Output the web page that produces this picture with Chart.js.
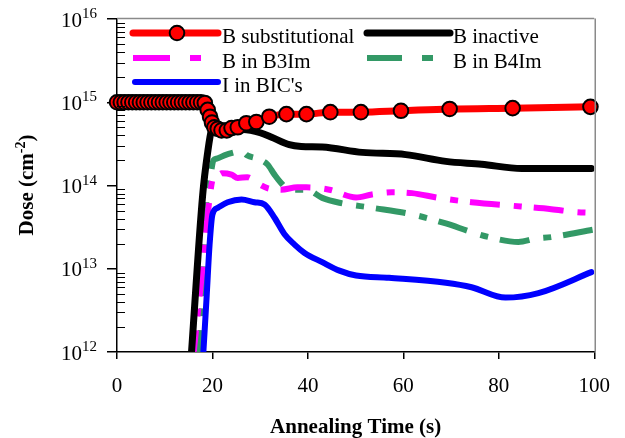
<!DOCTYPE html>
<html>
<head>
<meta charset="utf-8">
<script src="https://cdn.jsdelivr.net/npm/chart.js@4.4.0/dist/chart.umd.min.js"></script>
<style>
  html, body { margin: 0; padding: 0; background: #fff; }
  #wrap { width: 625px; height: 438px; }
</style>
</head>
<body>
<div id="wrap"><canvas id="cv" width="625" height="438"></canvas></div>
<script>
'use strict';
// Annealing time (s) and dose (cm^-2)
const subT = [0, 0.8, 1.6, 2.4, 3.2, 4.0, 4.8, 5.6, 6.4, 7.2, 8.0, 8.8, 9.6, 10.4, 11.2, 12.0, 12.8, 13.6, 14.4, 15.2, 16.0, 16.8, 17.6, 18.4,
  19.0, 19.5, 19.9, 20.4, 21.1, 21.9, 23.0, 24.0, 25.3, 27.1, 29.2, 31.9, 35.5, 39.7, 44.7, 51.1, 59.5, 69.7, 82.9, 99.2];
const subDose = [1e15, 1e15, 1e15, 1e15, 1e15, 1e15, 1e15, 1e15, 1e15, 1e15, 1e15, 1e15, 1e15, 1e15, 1e15, 1e15, 1e15, 1e15, 1e15, 1e15, 1e15, 1e15, 1e15, 9.8e14,
  8.1e14, 6.7e14, 5.7e14, 5.0e14, 4.8e14, 4.6e14, 4.6e14, 4.9e14, 5.0e14, 5.6e14, 5.8e14, 6.7e14, 7.2e14, 7.2e14, 7.6e14, 7.6e14, 7.9e14, 8.3e14, 8.5e14, 8.8e14];

const inactT = [15.5, 17.95, 19.0, 19.8, 20.5, 22, 25, 28, 30, 32.4, 36.1, 38.6, 43, 51.4, 60.5, 68.9, 76.4, 84.8, 99.4];
const inactDose = [8e11, 7.7e13, 2.5e14, 4.6e14, 5.0e14, 5.0e14, 4.8e14, 4.6e14, 4.3e14, 3.8e14, 3.1e14, 2.95e14, 2.9e14, 2.5e14, 2.35e14, 1.95e14, 1.8e14, 1.6e14, 1.6e14];

const b3T = [15.9, 17.9, 19.5, 20.1, 20.9, 21.9, 24.0, 25.3, 27.3, 29.4, 31.5, 34.4, 37.8, 39.7, 44.5, 50.1, 53.4, 57.6, 61.8, 67.4, 74.3, 84.6, 91.0, 96.2, 100];
const b3Dose = [8e11, 1.0e13, 7.8e13, 1.2e14, 1.26e14, 1.4e14, 1.35e14, 1.23e14, 1.26e14, 1.07e14, 9.3e13, 8.9e13, 9.5e13, 9.5e13, 8.9e13, 7.2e13, 7.8e13, 8.3e13, 8.1e13, 7.1e13, 6.3e13, 5.6e13, 5.2e13, 4.8e13, 4.7e13];

const b4T = [17.2, 18.2, 18.8, 19.6, 20.2, 20.9, 22.5, 24.6, 26.1, 27.3, 29.4, 31.5, 33.0, 34.4, 36.1, 39.7, 43.0, 46.6, 53.4, 61.8, 68.9, 74.3, 77.9, 84.1, 87.7, 91.0, 99.8];
const b4Dose = [8e11, 9.5e12, 7.8e13, 1.35e14, 2.0e14, 2.1e14, 2.3e14, 2.5e14, 2.6e14, 2.3e14, 2.1e14, 1.8e14, 1.35e14, 1.07e14, 8.9e13, 8.9e13, 7.1e13, 6.2e13, 5.4e13, 4.5e13, 3.5e13, 2.75e13, 2.4e13, 2.1e13, 2.3e13, 2.4e13, 2.95e13];

const bicT = [18.0, 18.8, 19.4, 20.0, 21.1, 23.2, 26.1, 28.8, 30.9, 33.0, 35.1, 37.2, 39.3, 43.0, 46.6, 50.1, 57.0, 68.9, 74.3, 81.4, 88.3, 99.4];
const bicDose = [8e11, 4.8e12, 1.95e13, 4.5e13, 5.4e13, 6.3e13, 6.8e13, 6.3e13, 5.9e13, 4.1e13, 2.6e13, 1.95e13, 1.55e13, 1.2e13, 9.5e12, 8.3e12, 7.8e12, 6.8e12, 6.0e12, 4.5e12, 5.1e12, 9.1e12];

const seriesNames = ['B substitutional', 'B inactive', 'B in B3Im', 'B in B4Im', "I in BIC's"];
const xTicks = [0, 20, 40, 60, 80, 100];
const yExps = [12, 13, 14, 15, 16];

const SERIF = "'Liberation Serif', 'Times New Roman', serif";
const DASH = [30, 14, 8, 12];

function pts(xs, ys) { return xs.map((x, i) => ({ x, y: ys[i] })); }
function isDecade(v) { const l = Math.log10(v); return Math.abs(l - Math.round(l)) < 1e-6; }

// legend placement (pixels), one per series
const legendSlots = [
  { x0: 133, x1: 218, y: 33, tx: 222, mark: 177 },
  { x0: 367, x1: 450, y: 33, tx: 453 },
  { x0: 133, x1: 201, y: 58, tx: 222, dash: [37, 20, 11, 100] },
  { x0: 367, x1: 433, y: 58, tx: 453, dash: [35, 20, 11, 100] },
  { x0: 135, x1: 218, y: 82, tx: 222 },
];

const decor = {
  id: 'decor',
  afterDraw(chart) {
    const ctx = chart.ctx;
    const a = chart.chartArea;
    const ys = chart.scales.y;
    ctx.save();

    // grey frame on top and right
    ctx.strokeStyle = '#8a8a8a';
    ctx.lineWidth = 1.5;
    ctx.beginPath();
    ctx.moveTo(a.left, a.top - 0.5); ctx.lineTo(a.right, a.top - 0.5);
    ctx.moveTo(a.right + 1, a.top - 0.5); ctx.lineTo(a.right + 1, a.bottom);
    ctx.stroke();

    // minor y ticks point inward
    ctx.strokeStyle = '#000';
    ctx.lineWidth = 1;
    ctx.beginPath();
    ys.ticks.forEach(t => {
      if (isDecade(t.value)) return;
      const y = Math.round(ys.getPixelForValue(t.value)) + 0.5;
      ctx.moveTo(a.left, y); ctx.lineTo(a.left + 8, y);
    });
    ctx.stroke();

    // y tick labels 10^n
    ctx.fillStyle = '#000';
    ctx.textBaseline = 'alphabetic';
    yExps.forEach(e => {
      const y = ys.getPixelForValue(Math.pow(10, e));
      ctx.font = '15px ' + SERIF;
      const we = ctx.measureText(String(e)).width;
      ctx.font = '21px ' + SERIF;
      ctx.textAlign = 'right';
      ctx.fillText('10', 97 - we, y + 7.5);
      ctx.font = '15px ' + SERIF;
      ctx.textAlign = 'left';
      ctx.fillText(String(e), 97 - we, y - 1);
    });

    // y title with superscript
    ctx.translate(33, 185);
    ctx.rotate(-Math.PI / 2);
    ctx.textAlign = 'left';
    ctx.font = 'bold 21px ' + SERIF;
    const w1 = ctx.measureText('Dose (cm').width;
    const w3 = ctx.measureText(')').width;
    ctx.font = 'bold 14px ' + SERIF;
    const w2 = ctx.measureText('-2').width;
    let x = -(w1 + w2 + w3) / 2;
    ctx.font = 'bold 21px ' + SERIF;
    ctx.fillText('Dose (cm', x, 0); x += w1;
    ctx.font = 'bold 14px ' + SERIF;
    ctx.fillText('-2', x, -8); x += w2;
    ctx.font = 'bold 21px ' + SERIF;
    ctx.fillText(')', x, 0);
    ctx.restore();

    // legend
    ctx.save();
    chart.data.datasets.forEach((ds, i) => {
      const s = legendSlots[i];
      ctx.strokeStyle = ds.borderColor;
      ctx.lineWidth = ds.borderWidth;
      ctx.lineCap = s.dash ? 'butt' : 'round';
      ctx.setLineDash(s.dash || []);
      ctx.beginPath();
      ctx.moveTo(s.x0, s.y); ctx.lineTo(s.x1, s.y);
      ctx.stroke();
      ctx.setLineDash([]);
      if (s.mark) {
        ctx.beginPath();
        ctx.arc(s.mark, s.y, ds.pointRadius, 0, Math.PI * 2);
        ctx.fillStyle = ds.pointBackgroundColor;
        ctx.fill();
        ctx.lineWidth = ds.pointBorderWidth;
        ctx.strokeStyle = ds.pointBorderColor;
        ctx.stroke();
      }
      ctx.fillStyle = '#000';
      ctx.font = '21px ' + SERIF;
      ctx.textAlign = 'left';
      ctx.textBaseline = 'alphabetic';
      ctx.fillText(ds.label, s.tx, s.y + 10);
    });
    ctx.restore();
  }
};

const chart = new Chart(document.getElementById('cv'), {
  type: 'line',
  data: {
    datasets: [
      { label: seriesNames[0], data: pts(subT, subDose), borderColor: '#ff0000', borderWidth: 7,
        pointRadius: 7.3, pointBackgroundColor: '#ff0000', pointBorderColor: '#000', pointBorderWidth: 2,
        cubicInterpolationMode: 'monotone', clip: false, order: 0 },
      { label: seriesNames[1], data: pts(inactT, inactDose), borderColor: '#000000', borderWidth: 7,
        pointRadius: 0, cubicInterpolationMode: 'monotone', borderCapStyle: 'round', borderJoinStyle: 'round', order: 1 },
      { label: seriesNames[2], data: pts(b3T, b3Dose), borderColor: '#ff00ff', borderWidth: 6,
        borderDash: DASH, pointRadius: 0, cubicInterpolationMode: 'monotone', order: 3 },
      { label: seriesNames[3], data: pts(b4T, b4Dose), borderColor: '#339966', borderWidth: 6,
        borderDash: DASH, pointRadius: 0, cubicInterpolationMode: 'monotone', order: 4 },
      { label: seriesNames[4], data: pts(bicT, bicDose), borderColor: '#0000ff', borderWidth: 6,
        pointRadius: 0, cubicInterpolationMode: 'monotone', borderCapStyle: 'round', borderJoinStyle: 'round', order: 2 },
    ]
  },
  options: {
    responsive: false,
    animation: false,
    devicePixelRatio: 1,
    layout: { padding: { left: 0, right: 28, top: 19, bottom: 0 } },
    plugins: { legend: { display: false }, tooltip: { enabled: false } },
    scales: {
      x: {
        type: 'linear', min: 0, max: 100,
        afterFit: s => { s.height = 86; },
        afterBuildTicks: s => { s.ticks = xTicks.map(v => ({ value: v })); },
        ticks: { color: '#000', font: { family: SERIF, size: 21 }, padding: 15, maxRotation: 0 },
        grid: { drawOnChartArea: false, drawTicks: true, tickLength: 7, color: '#000', lineWidth: 1.5 },
        border: { display: true, color: '#000', width: 1.5 },
        title: { display: true, text: 'Annealing Time (s)', color: '#000',
          font: { family: SERIF, size: 21, weight: 'bold' }, padding: { top: 0, bottom: -2 } }
      },
      y: {
        type: 'logarithmic', min: 1e12, max: 1e16,
        afterFit: s => { s.width = 117; },
        afterBuildTicks: s => {
          const t = [];
          yExps.slice(0, -1).forEach(e => {
            for (let m = 1; m < 10; m++) t.push({ value: m * Math.pow(10, e) });
          });
          t.push({ value: Math.pow(10, yExps[yExps.length - 1]) });
          s.ticks = t;
        },
        ticks: { display: false },
        grid: { drawOnChartArea: false, drawTicks: true, tickLength: 10, lineWidth: 1.5,
          color: c => (c.tick && isDecade(c.tick.value)) ? '#000' : 'rgba(0,0,0,0)' },
        border: { display: true, color: '#000', width: 1.5 }
      }
    }
  },
  plugins: [decor]
});
</script>
</body>
</html>
